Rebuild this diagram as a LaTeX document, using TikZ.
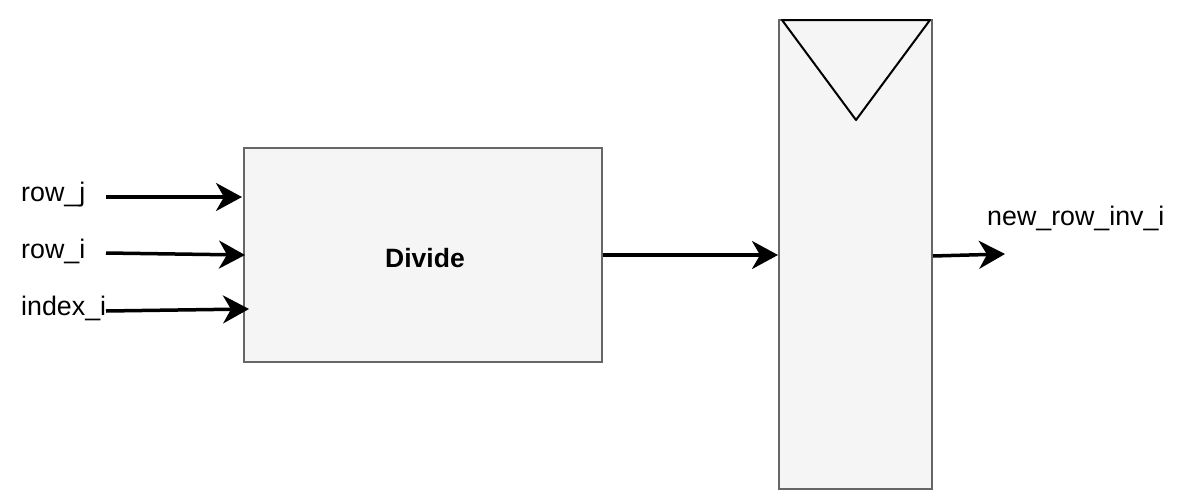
\documentclass[tikz,border=0pt]{standalone}
\usepackage{fontspec}
\setmainfont{Liberation Sans}
\usetikzlibrary{arrows.meta}
\begin{document}
\begin{tikzpicture}[x=1pt,y=-1pt,
  blockbox/.style={draw=black!60,fill=black!4,line width=2pt,inner sep=0pt},
  conn/.style={line width=3.5pt,-{Stealth[length=26pt,width=28pt,inset=8pt]}},
  lbl/.style={anchor=base west,inner sep=0pt,font=\fontsize{26.8}{30}\selectfont}]
\useasboundingbox (0,0) rectangle (1183,501);
\node[blockbox,minimum width=358pt,minimum height=214pt] (divide) at (423,255) {};
\node[font=\fontsize{26.5}{30}\selectfont\bfseries] (dlbl) at (425,258) {Divide};
\node[blockbox,minimum width=153pt,minimum height=469pt] (reg) at (855.5,254.5) {};
\draw[line width=2pt,line join=round] ([xshift=4pt,yshift=-1pt]reg.north west) -- (856,120) -- ([xshift=-3pt,yshift=-1pt]reg.north east) -- cycle;
\node[lbl] (lj) at (21,201) {row\_j};
\node[lbl] (li) at (21,258) {row\_i};
\node[lbl] (lx) at (21,315) {index\_i};
\node[lbl] (lo) at (987,225) {new\_row\_inv\_i};
\coordinate (sj) at (106,197);
\coordinate (si) at (106,253);
\coordinate (sx) at (106,311);
\coordinate (ej) at (242,197);
\coordinate (ei) at (245,255);
\coordinate (ex) at (249,309);
\coordinate (eo) at (1005,254);
\draw[conn] (sj) -- (ej);
\draw[conn] (si) -- (ei);
\draw[conn] (sx) -- (ex);
\draw[conn] (divide.east |- 0,255) -- (reg.west |- 0,255);
\draw[conn] (reg.east |- 0,256) -- (eo);
\end{tikzpicture}
\end{document}
